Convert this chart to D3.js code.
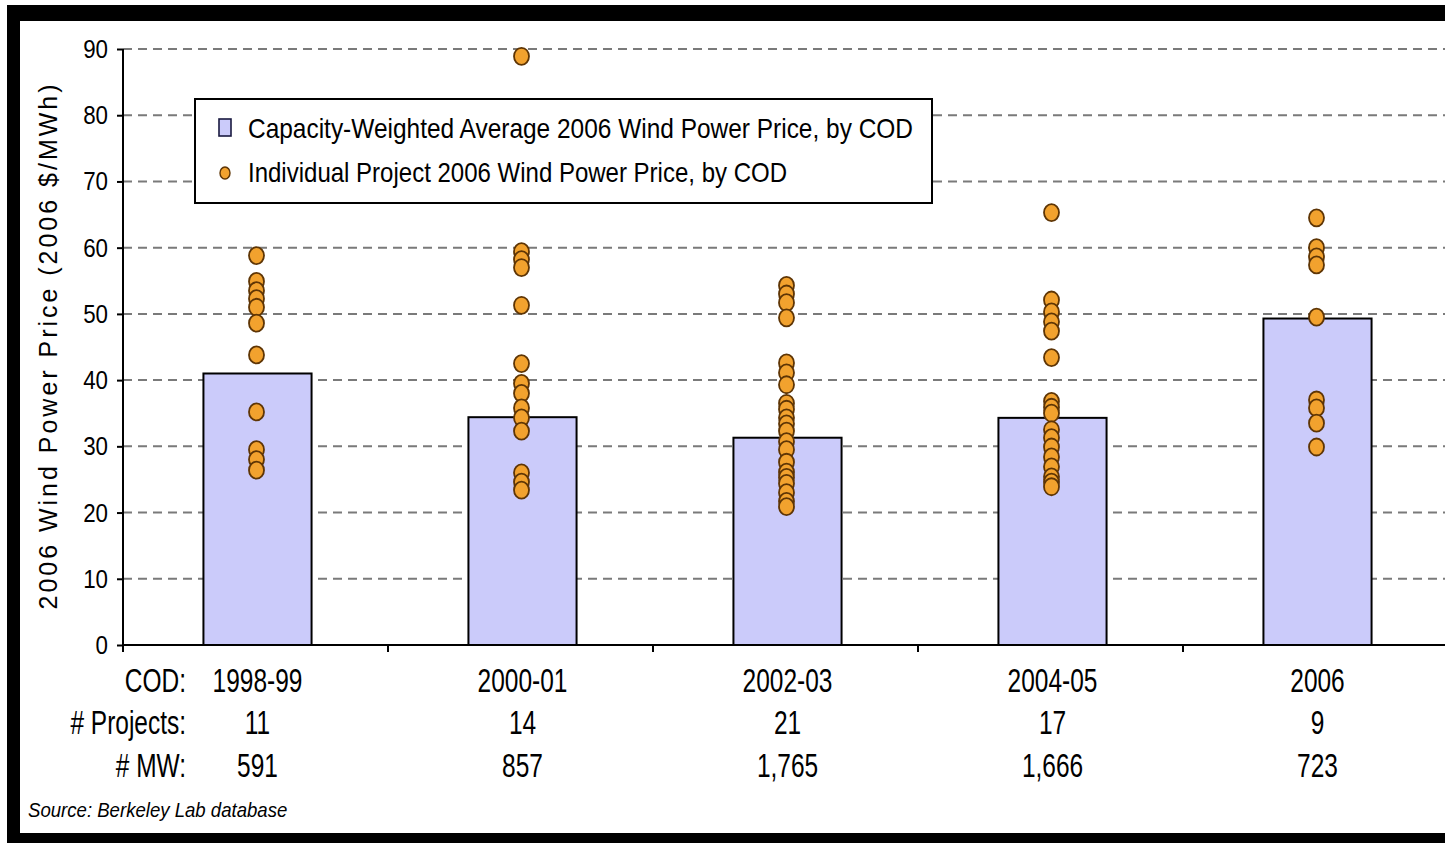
<!DOCTYPE html>
<html>
<head>
<meta charset="utf-8">
<script src="https://cdn.jsdelivr.net/npm/d3@7"></script>
<style>
  html, body { margin: 0; padding: 0; background: #ffffff; overflow: hidden; }
  svg { display: block; }
  text { font-family: "Liberation Sans", Arial, sans-serif; fill: #000; }
</style>
</head>
<body>
<svg id="chart" width="1445" height="843"></svg>
<script>
// Commercial operation date groups
const categories = ["1998-99", "2000-01", "2002-03", "2004-05", "2006"];
// Capacity-weighted average 2006 wind power price ($/MWh)
const averagePrice = [41.0, 34.4, 31.3, 34.3, 49.3];
// Individual project 2006 wind power prices ($/MWh)
const projectPrices = [
  [58.8, 54.9, 53.5, 52.3, 51.0, 48.6, 43.8, 35.2, 29.5, 28.0, 26.4],
  [88.9, 59.4, 58.2, 57.0, 51.3, 42.5, 39.5, 38.0, 35.8, 34.3, 32.3, 26.0, 24.6, 23.4],
  [54.3, 53.0, 51.7, 49.4, 42.6, 41.1, 39.3, 36.5, 35.6, 34.3, 33.4, 32.3, 30.7, 29.5,
   27.6, 26.1, 25.3, 24.4, 23.0, 21.7, 20.9],
  [65.3, 52.1, 50.3, 48.8, 47.4, 43.4, 36.8, 35.9, 35.0, 32.5, 31.3, 29.9, 28.4, 26.9,
   25.4, 24.6, 23.9],
  [64.5, 60.0, 58.6, 57.4, 49.5, 37.0, 35.8, 33.5, 29.9]
];
const projectCounts = ["11", "14", "21", "17", "9"];
const capacityMW = ["591", "857", "1,765", "1,666", "723"];
const yTicks = [0, 10, 20, 30, 40, 50, 60, 70, 80, 90];
const rowLabels = ["COD:", "# Projects:", "# MW:"];
const legendLabels = [
  "Capacity-Weighted Average 2006 Wind Power Price, by COD",
  "Individual Project 2006 Wind Power Price, by COD"
];
const yTitle = "2006 Wind Power Price (2006 $/MWh)";
const sourceNote = "Source: Berkeley Lab database";

const svg = d3.select("#chart");

// Frame: black border around a white panel (open on the right)
svg.append("rect").attr("x", 7).attr("y", 5).attr("width", 1438).attr("height", 838).attr("fill", "#000");
svg.append("rect").attr("x", 20).attr("y", 21).attr("width", 1425).attr("height", 812).attr("fill", "#fff");

const x = d3.scaleBand().domain(categories).range([123, 1448]).padding(0);
const y = d3.scaleLinear().domain([0, 90]).range([645, 49]);

// Condensed text helper
function label(g, px, py, str, size, sx, anchor, extra) {
  const t = g.append("text")
    .attr("transform", `translate(${px},${py}) scale(${sx},1)`)
    .attr("font-size", size)
    .attr("text-anchor", anchor || "start")
    .text(str);
  if (extra) extra(t);
  return t;
}

// Dashed horizontal gridlines
svg.append("g").selectAll("line")
  .data(yTicks.filter(d => d > 0))
  .join("line")
  .attr("x1", 123).attr("x2", 1448)
  .attr("y1", d => y(d)).attr("y2", d => y(d))
  .attr("stroke", "#7a7a7a").attr("stroke-width", 2)
  .attr("stroke-dasharray", "9,6");

// Average price bars
const barW = x.bandwidth() * 0.408;
svg.append("g").selectAll("rect")
  .data(categories)
  .join("rect")
  .attr("x", (d) => x(d) + x.bandwidth() / 2 - barW / 2 + 2)
  .attr("y", (d, i) => y(averagePrice[i]))
  .attr("width", barW)
  .attr("height", (d, i) => y(0) - y(averagePrice[i]))
  .attr("fill", "#cbcbfa").attr("stroke", "#000").attr("stroke-width", 2);

// Individual project points
const pts = [];
categories.forEach((c, i) => projectPrices[i].forEach(v => pts.push({ c, v })));
svg.append("g").selectAll("ellipse")
  .data(pts)
  .join("ellipse")
  .attr("cx", d => x(d.c) + x.bandwidth() / 2 + 1)
  .attr("cy", d => y(d.v))
  .attr("rx", 7.5).attr("ry", 8.5)
  .attr("fill", "#f2a22e").attr("stroke", "#5e3505").attr("stroke-width", 1.8);

// Y axis
const yAxis = svg.append("g").attr("transform", "translate(123,0)")
  .call(d3.axisLeft(y).tickValues(yTicks).tickSize(6).tickPadding(0).tickFormat(() => ""));
yAxis.select(".domain").attr("stroke", "#000").attr("stroke-width", 2).attr("d", `M0,${y(90)}V${y(0)}`);
yAxis.selectAll(".tick line").attr("stroke", "#000").attr("stroke-width", 2);
yTicks.forEach(v => label(svg, 108, y(v) + 9, String(v), 26, 0.86, "end"));

// X axis with ticks at group boundaries
const xAxis = svg.append("g").attr("transform", `translate(0,${y(0)})`);
xAxis.append("line").attr("x1", 123).attr("x2", 1448).attr("y1", 0).attr("y2", 0)
  .attr("stroke", "#000").attr("stroke-width", 2);
xAxis.selectAll("line.tk")
  .data(categories)
  .join("line").attr("class", "tk")
  .attr("x1", d => x(d)).attr("x2", d => x(d))
  .attr("y1", 0).attr("y2", 7)
  .attr("stroke", "#000").attr("stroke-width", 2);

// Y axis title
label(svg, 0, 0, yTitle, 25, 1, "middle", t => t
  .attr("transform", "translate(57,347) rotate(-90)")
  .attr("textLength", 525).attr("lengthAdjust", "spacing"));

// Table under the axis
const rowY = [692, 734, 777];
rowLabels.forEach((r, k) => label(svg, 186, rowY[k], r, 34, 0.72, "end"));
categories.forEach((c, i) => {
  const cx = x(c) + x.bandwidth() / 2;
  label(svg, cx + 2, rowY[0], c, 34, 0.72, "middle");
  label(svg, cx + 2, rowY[1], projectCounts[i], 34, 0.72, "middle");
  label(svg, cx + 2, rowY[2], capacityMW[i], 34, 0.72, "middle");
});

// Source note
label(svg, 28, 817, sourceNote, 20, 0.93, "start", t => t.attr("font-style", "italic"));

// Legend
const lg = svg.append("g");
lg.append("rect").attr("x", 195).attr("y", 99).attr("width", 737).attr("height", 104)
  .attr("fill", "#fff").attr("stroke", "#000").attr("stroke-width", 2);
lg.append("rect").attr("x", 219).attr("y", 119).attr("width", 12).attr("height", 17)
  .attr("fill", "#cbcbfa").attr("stroke", "#1a1a40").attr("stroke-width", 1.6);
lg.append("ellipse").attr("cx", 225).attr("cy", 173).attr("rx", 5).attr("ry", 6)
  .attr("fill", "#f2a22e").attr("stroke", "#5e3505").attr("stroke-width", 1.4);
lg.append("text").attr("x", 248).attr("y", 138).attr("font-size", 28)
  .attr("textLength", 665).attr("lengthAdjust", "spacingAndGlyphs").text(legendLabels[0]);
lg.append("text").attr("x", 248).attr("y", 182).attr("font-size", 28)
  .attr("textLength", 539).attr("lengthAdjust", "spacingAndGlyphs").text(legendLabels[1]);
</script>
</body>
</html>
